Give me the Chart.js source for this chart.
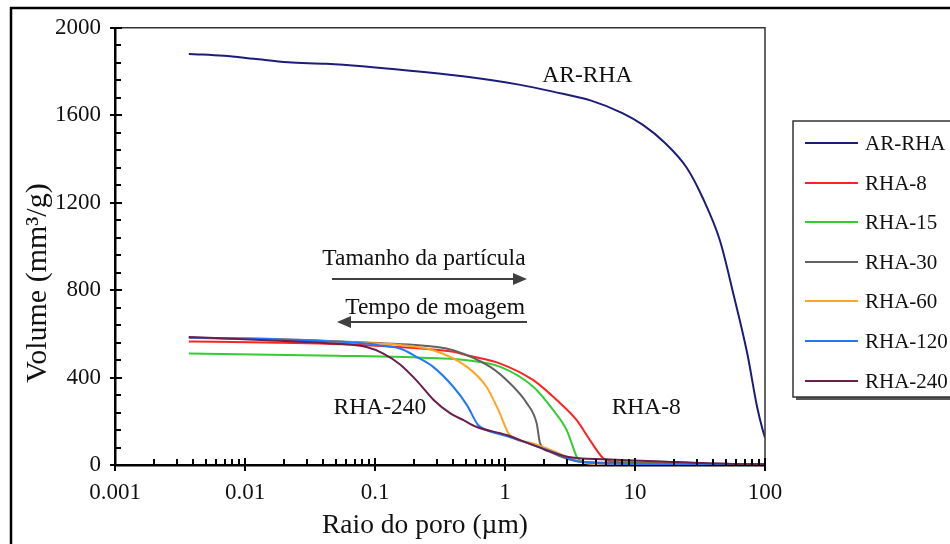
<!DOCTYPE html>
<html>
<head>
<meta charset="utf-8">
<script src="https://cdn.jsdelivr.net/npm/chart.js@4.4.1/dist/chart.umd.min.js"></script>
<style>
  html, body { margin: 0; padding: 0; background: #fff; }
  canvas { display: block; }
</style>
</head>
<body>
<canvas id="poros" width="950" height="544"></canvas>
<script>
// ================= DADOS =================
// raio do poro (µm) e volume acumulado (mm³/g) por amostra
const arRhaRaio = [0.0037, 0.0047, 0.0069, 0.0117, 0.0214, 0.0424, 0.178, 0.475, 1.28, 2.34, 4.6, 8.0, 11.5, 16.7, 25, 33, 45, 57, 73, 87, 95, 100];
const arRhaVol  = [1880, 1878, 1872, 1858, 1842, 1835, 1805, 1778, 1740, 1708, 1667, 1610, 1556, 1478, 1360, 1225, 1027, 785, 511, 265, 170, 125];

const rha8Raio = [0.0037, 0.0147, 0.086, 0.2, 0.4, 0.51, 0.92, 1.65, 2.5, 3.56, 4.5, 5.7, 6.8, 10, 20, 50, 100];
const rha8Vol  = [565, 560, 548, 535, 518, 502, 464, 388, 297, 205, 114, 31, 15, 12, 8, 4, 2];

const rha15Raio = [0.0037, 0.05, 0.3, 0.51, 0.92, 1.65, 2.35, 2.98, 3.3, 3.56, 4.0, 6, 10, 30, 100];
const rha15Vol  = [510, 500, 488, 479, 449, 358, 251, 160, 90, 38, 15, 10, 8, 4, 2];

const rha30Raio = [0.0037, 0.0147, 0.086, 0.3, 0.4, 0.77, 1.09, 1.47, 1.75, 1.86, 2.2, 3.8, 10, 30, 100];
const rha30Vol  = [582, 578, 560, 540, 525, 449, 374, 283, 192, 100, 61, 15, 8, 4, 2];

const rha60Raio = [0.0037, 0.0147, 0.086, 0.16, 0.28, 0.51, 0.72, 0.89, 1.09, 1.65, 3.0, 4.25, 6, 10, 100];
const rha60Vol  = [582, 575, 558, 548, 525, 449, 358, 251, 137, 99, 38, 8, 3, 1, 0];

const rha120Raio = [0.0037, 0.0147, 0.086, 0.116, 0.156, 0.21, 0.28, 0.40, 0.51, 0.62, 0.72, 1.03, 1.65, 2.5, 3.8, 9.6, 100];
const rha120Vol  = [582, 576, 556, 545, 533, 494, 449, 358, 274, 183, 160, 132, 91, 53, 15, 5, 5];

const rha240Raio = [0.0037, 0.0147, 0.048, 0.086, 0.116, 0.156, 0.21, 0.28, 0.38, 0.48, 0.60, 1.03, 1.65, 3.0, 6.0, 17.5, 56.7, 100];
const rha240Vol  = [585, 571, 556, 540, 510, 460, 385, 300, 236, 205, 175, 137, 91, 38, 26, 15, 5, 3];

const nomes = ["AR-RHA", "RHA-8", "RHA-15", "RHA-30", "RHA-60", "RHA-120", "RHA-240"];
const cores = ["#1c1c7a", "#ff2222", "#33cc33", "#626262", "#ffa526", "#1f78ff", "#6a1f4c"];

const xTicks = [0.001, 0.01, 0.1, 1, 10, 100];
const xTickLabels = ["0.001", "0.01", "0.1", "1", "10", "100"];
const yMax = 2000, yStep = 400, yMinor = 80;

// textos dentro do gráfico (em coordenadas dos dados)
const anotacoes = [
  { text: "AR-RHA", r: 4.3, v: 1781 },
  { text: "RHA-240", r: 0.109, v: 262 },
  { text: "RHA-8", r: 12.2, v: 262 },
  { text: "Tamanho da partícula", r: 0.238, v: 945 },
  { text: "Tempo de moagem", r: 0.29, v: 717 }
];
const setas = [
  { de: 0.0467, ate: 1.476, v: 849 },
  { de: 1.476, ate: 0.051, v: 653 }
];

const serif = '"Liberation Serif", "Times New Roman", serif';
const pts = (r, v) => r.map((x, i) => ({ x, y: v[i] }));
const series = [
  pts(arRhaRaio, arRhaVol), pts(rha8Raio, rha8Vol), pts(rha15Raio, rha15Vol),
  pts(rha30Raio, rha30Vol), pts(rha60Raio, rha60Vol), pts(rha120Raio, rha120Vol),
  pts(rha240Raio, rha240Vol)
];

// ================= DESENHO EXTRA =================
const extras = {
  id: "extras",
  beforeDraw(chart) {
    const c = chart.ctx;
    c.save();
    c.fillStyle = "#fff";
    c.fillRect(0, 0, chart.width, chart.height);
    // moldura da figura
    c.strokeStyle = "#000";
    c.lineWidth = 2.5;
    c.beginPath();
    c.moveTo(11, 544); c.lineTo(11, 8); c.lineTo(950, 8);
    c.stroke();
    c.restore();
  },
  afterDraw(chart) {
    const c = chart.ctx;
    const a = chart.chartArea;
    const xs = chart.scales.x, ys = chart.scales.y;
    c.save();

    // topo e lado direito da área do gráfico
    c.strokeStyle = "#333";
    c.lineWidth = 1.5;
    c.beginPath();
    c.moveTo(a.left, a.top); c.lineTo(a.right, a.top); c.lineTo(a.right, a.bottom);
    c.stroke();

    // marcas do eixo y
    c.strokeStyle = "#000";
    c.lineWidth = 2;
    c.beginPath();
    for (let v = 0; v <= yMax; v += yMinor) {
      const y = Math.round(ys.getPixelForValue(v));
      if (v % yStep === 0) { c.moveTo(a.left - 5, y); c.lineTo(a.left + 7, y); }
      else { c.moveTo(a.left, y); c.lineTo(a.left + 6, y); }
    }
    // marcas do eixo x (log)
    xTicks.forEach((d, i) => {
      const x = Math.round(xs.getPixelForValue(d));
      c.moveTo(x, a.bottom - 7); c.lineTo(x, a.bottom + 6);
      if (i < xTicks.length - 1) {
        for (let k = 2; k <= 9; k++) {
          const xm = Math.round(xs.getPixelForValue(d * k));
          c.moveTo(xm, a.bottom); c.lineTo(xm, a.bottom - 6);
        }
      }
    });
    c.stroke();

    // títulos dos eixos
    c.fillStyle = "#111";
    c.textAlign = "center";
    c.textBaseline = "middle";
    c.font = "27.5px " + serif;
    c.fillText("Raio do poro (µm)", 425, 526);
    c.save();
    c.translate(38, 283);
    c.rotate(-Math.PI / 2);
    c.font = "30px " + serif;
    c.fillText("Volume (mm³/g)", 0, 0);
    c.restore();

    // anotações
    c.font = "23.5px " + serif;
    anotacoes.forEach(t => {
      c.fillText(t.text, xs.getPixelForValue(t.r), ys.getPixelForValue(t.v));
    });
    c.strokeStyle = "#404040";
    c.fillStyle = "#404040";
    c.lineWidth = 2;
    setas.forEach(s => {
      const x0 = xs.getPixelForValue(s.de), x1 = xs.getPixelForValue(s.ate);
      const y = Math.round(ys.getPixelForValue(s.v));
      const dir = Math.sign(x1 - x0);
      c.beginPath();
      c.moveTo(x0, y); c.lineTo(x1 - dir * 10, y);
      c.stroke();
      c.beginPath();
      c.moveTo(x1, y); c.lineTo(x1 - dir * 14, y - 6); c.lineTo(x1 - dir * 14, y + 6);
      c.closePath();
      c.fill();
    });

    // legenda
    const lx = 793, ly = 121, lw = 180, lh = 276;
    c.fillStyle = "#555";
    c.fillRect(lx + 3, ly + 3, lw, lh);
    c.fillStyle = "#fff";
    c.fillRect(lx, ly, lw, lh);
    c.strokeStyle = "#333";
    c.lineWidth = 1.5;
    c.strokeRect(lx, ly, lw, lh);
    c.font = "21px " + serif;
    c.textAlign = "left";
    chart.data.datasets.forEach((ds, i) => {
      const y = Math.round(ly + 22 + i * 39.6);
      c.strokeStyle = ds.borderColor;
      c.lineWidth = 2;
      c.beginPath();
      c.moveTo(805, y); c.lineTo(858, y);
      c.stroke();
      c.fillStyle = "#111";
      c.fillText(ds.label, 865, y + 1);
    });
    c.restore();
  }
};

// ================= GRÁFICO =================
new Chart(document.getElementById("poros"), {
  type: "line",
  data: {
    datasets: series.map((d, i) => ({
      label: nomes[i],
      data: d,
      borderColor: cores[i],
      borderWidth: 2,
      pointRadius: 0,
      fill: false,
      cubicInterpolationMode: "monotone",
      order: i === 0 ? 0 : 7 - i
    }))
  },
  options: {
    responsive: false,
    animation: false,
    events: [],
    layout: { padding: { top: 27, right: 185, bottom: 0, left: 0 } },
    plugins: { legend: { display: false }, tooltip: { enabled: false } },
    scales: {
      x: {
        type: "logarithmic",
        min: 0.001,
        max: 100,
        afterBuildTicks: s => { s.ticks = xTicks.map(v => ({ value: v })); },
        afterFit: s => { s.height = 79; },
        ticks: {
          callback: (v, i) => xTickLabels[i],
          autoSkip: false,
          maxRotation: 0,
          padding: 14,
          color: "#111",
          font: { family: serif, size: 23 }
        },
        grid: { display: false, drawTicks: false },
        border: { display: true, color: "#000", width: 2.5 }
      },
      y: {
        min: 0,
        max: yMax,
        afterFit: s => { s.width = 115; },
        ticks: {
          stepSize: yStep,
          callback: v => String(v),
          padding: 14,
          color: "#111",
          font: { family: serif, size: 23 }
        },
        grid: { display: false, drawTicks: false },
        border: { display: true, color: "#000", width: 2.5 }
      }
    }
  },
  plugins: [extras]
});
</script>
</body>
</html>
